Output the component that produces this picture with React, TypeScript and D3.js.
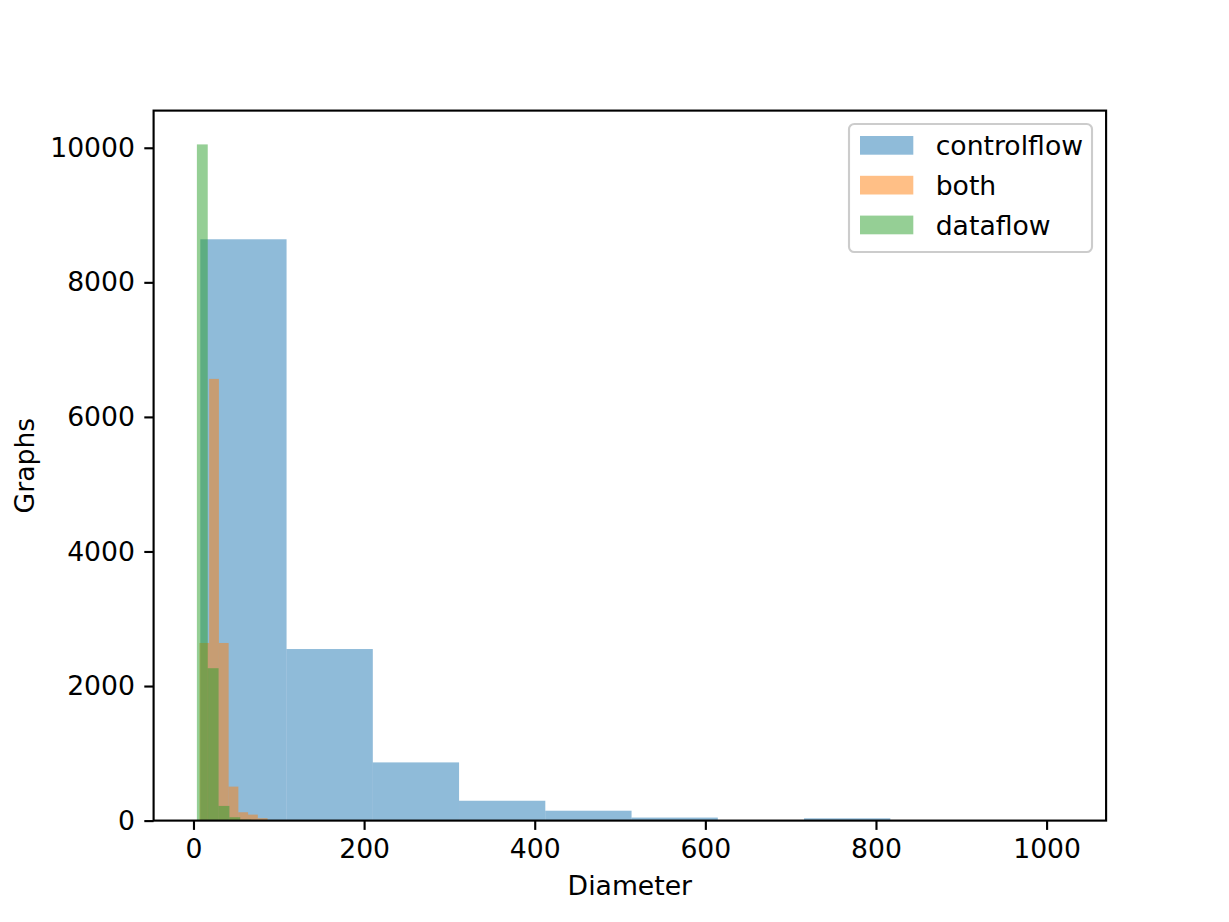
import React, { useEffect, useRef } from 'react';
import * as d3 from 'd3';

// histogram bins (edges in diameter units, counts in graphs)
const controlflowEdges = [8, 109.1, 210.2, 311.3, 412.4, 513.5, 614.6, 715.7, 816.8, 917.9, 1019];
const controlflowCounts = [8640, 2550, 865, 295, 147, 45, 3, 34, 2, 1];

const bothEdges = [7, 18.4, 29.8, 41.2, 52.6, 64, 75.4, 86.8, 98.2, 109.6, 121];
const bothCounts = [2640, 6565, 2640, 505, 124, 89, 35, 8, 3, 1];

const dataflowEdges = [4, 16.7, 29.4, 42.1, 54.8, 67.5, 80.2, 92.9, 105.6, 118.3, 131];
const dataflowCounts = [10050, 2265, 218, 50, 14, 6, 3, 1, 1, 1];

const seriesNames = ['controlflow', 'both', 'dataflow'];
const seriesColors = ['#1f77b4', '#ff7f0e', '#2ca02c'];

const xTicks = [0, 200, 400, 600, 800, 1000];
const yTicks = [0, 2000, 4000, 6000, 8000, 10000];

interface Bin {
  x0: number;
  x1: number;
  count: number;
}

const toBins = (edges: number[], counts: number[]): Bin[] =>
  counts.map((c, i) => ({ x0: edges[i], x1: edges[i + 1], count: c }));

const App: React.FC = () => {
  const svgRef = useRef<SVGSVGElement>(null);

  useEffect(() => {
    if (!svgRef.current) return;
    const svg = d3.select(svgRef.current);
    svg.selectAll('*').remove();

    const W = 1229;
    const H = 922;
    const fs = 26.67;
    const lw = 2.13;
    const left = 153.6;
    const right = 1106.1;
    const top = 110.6;
    const bottom = 820.6;

    const series = [
      toBins(controlflowEdges, controlflowCounts),
      toBins(bothEdges, bothCounts),
      toBins(dataflowEdges, dataflowCounts),
    ];

    const allEdges = [...controlflowEdges, ...bothEdges, ...dataflowEdges];
    const xMin = d3.min(allEdges) as number;
    const xMax = d3.max(allEdges) as number;
    const xPad = (xMax - xMin) * 0.05;
    const yMax = d3.max([...controlflowCounts, ...bothCounts, ...dataflowCounts]) as number;

    const x = d3.scaleLinear().domain([xMin - xPad, xMax + xPad]).range([left, right]);
    const y = d3.scaleLinear().domain([0, yMax * 1.05]).range([bottom, top]);

    svg.attr('width', W).attr('height', H);
    svg.append('rect').attr('width', W).attr('height', H).attr('fill', 'white');

    // bars
    series.forEach((bins, si) => {
      svg.append('g')
        .selectAll('rect')
        .data(bins)
        .enter()
        .append('rect')
        .attr('x', d => x(d.x0))
        .attr('width', d => x(d.x1) - x(d.x0))
        .attr('y', d => y(d.count))
        .attr('height', d => y(0) - y(d.count))
        .attr('fill', seriesColors[si])
        .attr('fill-opacity', 0.5);
    });

    // axes
    const xAxis = svg.append('g')
      .attr('transform', `translate(0,${bottom})`)
      .call(d3.axisBottom(x).tickValues(xTicks).tickSize(9.3).tickPadding(9.3).tickFormat(d3.format('d')));
    const yAxis = svg.append('g')
      .attr('transform', `translate(${left},0)`)
      .call(d3.axisLeft(y).tickValues(yTicks).tickSize(9.3).tickPadding(9.3).tickFormat(d3.format('d')));

    [xAxis, yAxis].forEach(ax => {
      ax.select('.domain').remove();
      ax.selectAll('line').attr('stroke', 'black').attr('stroke-width', lw);
      ax.selectAll('text')
        .attr('fill', 'black')
        .attr('font-size', fs)
        .attr('font-family', 'DejaVu Sans, sans-serif');
    });

    // frame
    svg.append('rect')
      .attr('x', left)
      .attr('y', top)
      .attr('width', right - left)
      .attr('height', bottom - top)
      .attr('fill', 'none')
      .attr('stroke', 'black')
      .attr('stroke-width', lw);

    // axis labels
    svg.append('text')
      .attr('x', (left + right) / 2)
      .attr('y', 895)
      .attr('text-anchor', 'middle')
      .attr('font-size', fs)
      .attr('font-family', 'DejaVu Sans, sans-serif')
      .text('Diameter');

    svg.append('text')
      .attr('transform', `translate(33.5,${(top + bottom) / 2}) rotate(-90)`)
      .attr('text-anchor', 'middle')
      .attr('font-size', fs)
      .attr('font-family', 'DejaVu Sans, sans-serif')
      .text('Graphs');

    // legend
    const legend = svg.append('g');
    legend.append('rect')
      .attr('x', 849)
      .attr('y', 124)
      .attr('width', 243)
      .attr('height', 128)
      .attr('rx', 5.3)
      .attr('fill', 'white')
      .attr('fill-opacity', 0.8)
      .attr('stroke', '#cccccc')
      .attr('stroke-width', lw);

    const items = legend.selectAll('g.item')
      .data(seriesNames)
      .enter()
      .append('g')
      .attr('class', 'item')
      .attr('transform', (_d, i) => `translate(0,${i * 39.8})`);

    items.append('rect')
      .attr('x', 860)
      .attr('y', 136)
      .attr('width', 53.3)
      .attr('height', 18.7)
      .attr('fill', (_d, i) => seriesColors[i])
      .attr('fill-opacity', 0.5);

    items.append('text')
      .attr('x', 935.7)
      .attr('y', 155)
      .attr('font-size', fs)
      .attr('font-family', 'DejaVu Sans, sans-serif')
      .text(d => d);
  }, []);

  return (
    <svg
      ref={svgRef}
      style={{ position: 'absolute', left: 0, top: 0, display: 'block' }}
    ></svg>
  );
};

export default App;
